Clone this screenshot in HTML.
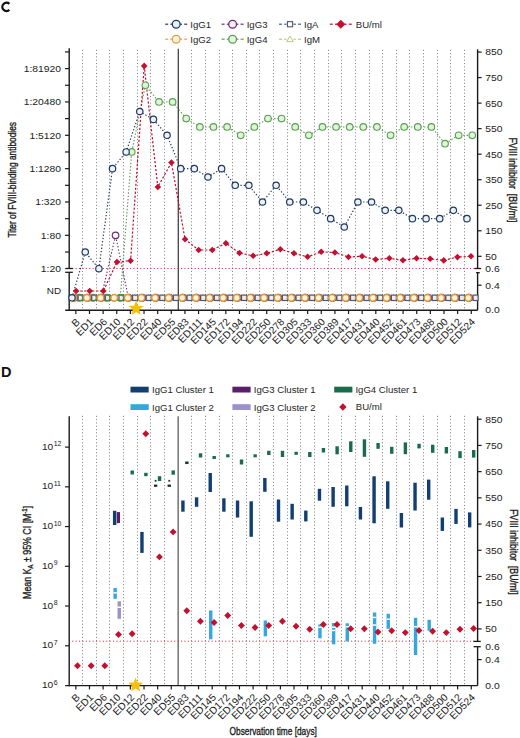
<!DOCTYPE html>
<html><head><meta charset="utf-8"><style>
html,body{margin:0;padding:0;background:#fff;}
svg{display:block;font-family:"Liberation Sans", sans-serif;}
</style></head><body>
<svg width="520" height="738" viewBox="0 0 520 738">
<rect width="520" height="738" fill="#fff"/>
<path d="M9.35 3.85 A4.15 4.15 0 1 0 9.35 9.95" fill="none" stroke="#111" stroke-width="2.3"/>
<line x1="165.20" y1="24.20" x2="168.20" y2="24.20" stroke="#22395a" stroke-width="1.2" />
<line x1="170.40" y1="24.20" x2="172.70" y2="24.20" stroke="#22395a" stroke-width="1.2" />
<line x1="179.70" y1="24.20" x2="182.00" y2="24.20" stroke="#22395a" stroke-width="1.2" />
<line x1="184.20" y1="24.20" x2="187.20" y2="24.20" stroke="#22395a" stroke-width="1.2" />
<circle cx="176.20" cy="24.20" r="3.9" stroke="#22395a" fill="#e4f1fb" stroke-width="1.3"/>
<text x="190.30" y="27.60" font-size="9.6" text-anchor="start" fill="#262626" font-weight="normal" >IgG1</text>
<line x1="221.60" y1="24.20" x2="224.60" y2="24.20" stroke="#6a2d6e" stroke-width="1.2" />
<line x1="226.80" y1="24.20" x2="229.10" y2="24.20" stroke="#6a2d6e" stroke-width="1.2" />
<line x1="236.10" y1="24.20" x2="238.40" y2="24.20" stroke="#6a2d6e" stroke-width="1.2" />
<line x1="240.60" y1="24.20" x2="243.60" y2="24.20" stroke="#6a2d6e" stroke-width="1.2" />
<circle cx="232.60" cy="24.20" r="3.9" stroke="#6a2d6e" fill="#f6eef6" stroke-width="1.3"/>
<text x="246.70" y="27.60" font-size="9.6" text-anchor="start" fill="#262626" font-weight="normal" >IgG3</text>
<line x1="279.00" y1="24.20" x2="282.00" y2="24.20" stroke="#4b5a72" stroke-width="1.2" />
<line x1="284.20" y1="24.20" x2="286.50" y2="24.20" stroke="#4b5a72" stroke-width="1.2" />
<line x1="293.50" y1="24.20" x2="295.80" y2="24.20" stroke="#4b5a72" stroke-width="1.2" />
<line x1="298.00" y1="24.20" x2="301.00" y2="24.20" stroke="#4b5a72" stroke-width="1.2" />
<rect x="287.40" y="21.60" width="5.2" height="5.2" fill="#fff" stroke="#4b5a72" stroke-width="1.1"/>
<text x="304.00" y="27.60" font-size="9.6" text-anchor="start" fill="#262626" font-weight="normal" >IgA</text>
<line x1="329.80" y1="24.20" x2="332.80" y2="24.20" stroke="#c2102f" stroke-width="1.2" />
<line x1="335.00" y1="24.20" x2="337.30" y2="24.20" stroke="#c2102f" stroke-width="1.2" />
<line x1="344.30" y1="24.20" x2="346.60" y2="24.20" stroke="#c2102f" stroke-width="1.2" />
<line x1="348.80" y1="24.20" x2="351.80" y2="24.20" stroke="#c2102f" stroke-width="1.2" />
<path d="M340.80 19.70L345.30 24.20L340.80 28.70L336.30 24.20Z" fill="#c2102f"/>
<text x="355.80" y="27.60" font-size="9.6" text-anchor="start" fill="#262626" font-weight="normal" >BU/ml</text>
<line x1="165.20" y1="39.20" x2="168.20" y2="39.20" stroke="#e0a040" stroke-width="1.2" />
<line x1="170.40" y1="39.20" x2="172.70" y2="39.20" stroke="#e0a040" stroke-width="1.2" />
<line x1="179.70" y1="39.20" x2="182.00" y2="39.20" stroke="#e0a040" stroke-width="1.2" />
<line x1="184.20" y1="39.20" x2="187.20" y2="39.20" stroke="#e0a040" stroke-width="1.2" />
<circle cx="176.20" cy="39.20" r="3.9" stroke="#e0a040" fill="#fdf0dc" stroke-width="1.3"/>
<text x="190.30" y="42.60" font-size="9.6" text-anchor="start" fill="#262626" font-weight="normal" >IgG2</text>
<line x1="221.60" y1="39.20" x2="224.60" y2="39.20" stroke="#5a9e52" stroke-width="1.2" />
<line x1="226.80" y1="39.20" x2="229.10" y2="39.20" stroke="#5a9e52" stroke-width="1.2" />
<line x1="236.10" y1="39.20" x2="238.40" y2="39.20" stroke="#5a9e52" stroke-width="1.2" />
<line x1="240.60" y1="39.20" x2="243.60" y2="39.20" stroke="#5a9e52" stroke-width="1.2" />
<circle cx="232.60" cy="39.20" r="3.9" stroke="#5a9e52" fill="#e6f5e1" stroke-width="1.3"/>
<text x="246.70" y="42.60" font-size="9.6" text-anchor="start" fill="#262626" font-weight="normal" >IgG4</text>
<line x1="279.00" y1="39.20" x2="282.00" y2="39.20" stroke="#b9c97f" stroke-width="1.2" />
<line x1="284.20" y1="39.20" x2="286.50" y2="39.20" stroke="#b9c97f" stroke-width="1.2" />
<line x1="293.50" y1="39.20" x2="295.80" y2="39.20" stroke="#b9c97f" stroke-width="1.2" />
<line x1="298.00" y1="39.20" x2="301.00" y2="39.20" stroke="#b9c97f" stroke-width="1.2" />
<path d="M290.00 36.00L293.20 41.60L286.80 41.60Z" fill="#fff" stroke="#b9c97f" stroke-width="1.0"/>
<text x="304.00" y="42.60" font-size="9.6" text-anchor="start" fill="#262626" font-weight="normal" >IgM</text>
<line x1="82.50" y1="49.80" x2="82.50" y2="310.20" stroke="#878787" stroke-width="1.0" stroke-dasharray="1.1 2.2"/>
<line x1="96.50" y1="49.80" x2="96.50" y2="310.20" stroke="#878787" stroke-width="1.0" stroke-dasharray="1.1 2.2"/>
<line x1="109.50" y1="49.80" x2="109.50" y2="310.20" stroke="#878787" stroke-width="1.0" stroke-dasharray="1.1 2.2"/>
<line x1="123.50" y1="49.80" x2="123.50" y2="310.20" stroke="#878787" stroke-width="1.0" stroke-dasharray="1.1 2.2"/>
<line x1="137.50" y1="49.80" x2="137.50" y2="310.20" stroke="#878787" stroke-width="1.0" stroke-dasharray="1.1 2.2"/>
<line x1="150.50" y1="49.80" x2="150.50" y2="310.20" stroke="#878787" stroke-width="1.0" stroke-dasharray="1.1 2.2"/>
<line x1="164.50" y1="49.80" x2="164.50" y2="310.20" stroke="#878787" stroke-width="1.0" stroke-dasharray="1.1 2.2"/>
<line x1="191.50" y1="49.80" x2="191.50" y2="310.20" stroke="#878787" stroke-width="1.0" stroke-dasharray="1.1 2.2"/>
<line x1="205.50" y1="49.80" x2="205.50" y2="310.20" stroke="#878787" stroke-width="1.0" stroke-dasharray="1.1 2.2"/>
<line x1="219.50" y1="49.80" x2="219.50" y2="310.20" stroke="#878787" stroke-width="1.0" stroke-dasharray="1.1 2.2"/>
<line x1="232.50" y1="49.80" x2="232.50" y2="310.20" stroke="#878787" stroke-width="1.0" stroke-dasharray="1.1 2.2"/>
<line x1="246.50" y1="49.80" x2="246.50" y2="310.20" stroke="#878787" stroke-width="1.0" stroke-dasharray="1.1 2.2"/>
<line x1="259.50" y1="49.80" x2="259.50" y2="310.20" stroke="#878787" stroke-width="1.0" stroke-dasharray="1.1 2.2"/>
<line x1="273.50" y1="49.80" x2="273.50" y2="310.20" stroke="#878787" stroke-width="1.0" stroke-dasharray="1.1 2.2"/>
<line x1="287.50" y1="49.80" x2="287.50" y2="310.20" stroke="#878787" stroke-width="1.0" stroke-dasharray="1.1 2.2"/>
<line x1="300.50" y1="49.80" x2="300.50" y2="310.20" stroke="#878787" stroke-width="1.0" stroke-dasharray="1.1 2.2"/>
<line x1="314.50" y1="49.80" x2="314.50" y2="310.20" stroke="#878787" stroke-width="1.0" stroke-dasharray="1.1 2.2"/>
<line x1="328.50" y1="49.80" x2="328.50" y2="310.20" stroke="#878787" stroke-width="1.0" stroke-dasharray="1.1 2.2"/>
<line x1="341.50" y1="49.80" x2="341.50" y2="310.20" stroke="#878787" stroke-width="1.0" stroke-dasharray="1.1 2.2"/>
<line x1="355.50" y1="49.80" x2="355.50" y2="310.20" stroke="#878787" stroke-width="1.0" stroke-dasharray="1.1 2.2"/>
<line x1="369.50" y1="49.80" x2="369.50" y2="310.20" stroke="#878787" stroke-width="1.0" stroke-dasharray="1.1 2.2"/>
<line x1="382.50" y1="49.80" x2="382.50" y2="310.20" stroke="#878787" stroke-width="1.0" stroke-dasharray="1.1 2.2"/>
<line x1="396.50" y1="49.80" x2="396.50" y2="310.20" stroke="#878787" stroke-width="1.0" stroke-dasharray="1.1 2.2"/>
<line x1="409.50" y1="49.80" x2="409.50" y2="310.20" stroke="#878787" stroke-width="1.0" stroke-dasharray="1.1 2.2"/>
<line x1="423.50" y1="49.80" x2="423.50" y2="310.20" stroke="#878787" stroke-width="1.0" stroke-dasharray="1.1 2.2"/>
<line x1="437.50" y1="49.80" x2="437.50" y2="310.20" stroke="#878787" stroke-width="1.0" stroke-dasharray="1.1 2.2"/>
<line x1="450.50" y1="49.80" x2="450.50" y2="310.20" stroke="#878787" stroke-width="1.0" stroke-dasharray="1.1 2.2"/>
<line x1="464.50" y1="49.80" x2="464.50" y2="310.20" stroke="#878787" stroke-width="1.0" stroke-dasharray="1.1 2.2"/>
<line x1="178.26" y1="48.80" x2="178.26" y2="310.20" stroke="#222" stroke-width="1.1" />
<line x1="72.20" y1="268.50" x2="474.60" y2="268.50" stroke="#c8304e" stroke-width="1.0" stroke-dasharray="1.1 2.3"/>
<line x1="69.20" y1="48.30" x2="69.20" y2="268.50" stroke="#1a1a1a" stroke-width="1.4" />
<line x1="69.20" y1="272.30" x2="69.20" y2="310.80" stroke="#1a1a1a" stroke-width="1.4" />
<line x1="65.20" y1="268.50" x2="72.90" y2="268.50" stroke="#1a1a1a" stroke-width="1.3" />
<line x1="65.20" y1="272.30" x2="72.90" y2="272.30" stroke="#1a1a1a" stroke-width="1.3" />
<line x1="65.20" y1="310.20" x2="477.60" y2="310.20" stroke="#1a1a1a" stroke-width="1.4" />
<line x1="477.60" y1="49.30" x2="477.60" y2="268.50" stroke="#1a1a1a" stroke-width="1.4" />
<line x1="477.60" y1="272.70" x2="477.60" y2="310.20" stroke="#1a1a1a" stroke-width="1.4" />
<line x1="474.40" y1="268.50" x2="481.20" y2="268.50" stroke="#1a1a1a" stroke-width="1.3" />
<line x1="476.00" y1="272.70" x2="479.80" y2="272.70" stroke="#1a1a1a" stroke-width="1.3" />
<line x1="65.00" y1="252.02" x2="69.20" y2="252.02" stroke="#1a1a1a" stroke-width="1.2" />
<line x1="65.00" y1="235.35" x2="69.20" y2="235.35" stroke="#1a1a1a" stroke-width="1.2" />
<line x1="65.00" y1="218.67" x2="69.20" y2="218.67" stroke="#1a1a1a" stroke-width="1.2" />
<line x1="65.00" y1="202.00" x2="69.20" y2="202.00" stroke="#1a1a1a" stroke-width="1.2" />
<line x1="65.00" y1="185.32" x2="69.20" y2="185.32" stroke="#1a1a1a" stroke-width="1.2" />
<line x1="65.00" y1="168.65" x2="69.20" y2="168.65" stroke="#1a1a1a" stroke-width="1.2" />
<line x1="65.00" y1="151.97" x2="69.20" y2="151.97" stroke="#1a1a1a" stroke-width="1.2" />
<line x1="65.00" y1="135.30" x2="69.20" y2="135.30" stroke="#1a1a1a" stroke-width="1.2" />
<line x1="65.00" y1="118.62" x2="69.20" y2="118.62" stroke="#1a1a1a" stroke-width="1.2" />
<line x1="65.00" y1="101.95" x2="69.20" y2="101.95" stroke="#1a1a1a" stroke-width="1.2" />
<line x1="65.00" y1="85.27" x2="69.20" y2="85.27" stroke="#1a1a1a" stroke-width="1.2" />
<line x1="65.00" y1="68.60" x2="69.20" y2="68.60" stroke="#1a1a1a" stroke-width="1.2" />
<line x1="65.00" y1="51.92" x2="69.20" y2="51.92" stroke="#1a1a1a" stroke-width="1.2" />
<text transform="translate(61.00,72.00) scale(1.1,1)" font-size="9.4" text-anchor="end" fill="#222">1:81920</text>
<text transform="translate(61.00,105.35) scale(1.1,1)" font-size="9.4" text-anchor="end" fill="#222">1:20480</text>
<text transform="translate(61.00,138.70) scale(1.1,1)" font-size="9.4" text-anchor="end" fill="#222">1:5120</text>
<text transform="translate(61.00,172.05) scale(1.1,1)" font-size="9.4" text-anchor="end" fill="#222">1:1280</text>
<text transform="translate(61.00,205.40) scale(1.1,1)" font-size="9.4" text-anchor="end" fill="#222">1:320</text>
<text transform="translate(61.00,238.75) scale(1.1,1)" font-size="9.4" text-anchor="end" fill="#222">1:80</text>
<text transform="translate(61.00,272.10) scale(1.1,1)" font-size="9.4" text-anchor="end" fill="#222">1:20</text>
<text transform="translate(61.00,294.20) scale(1.05,1)" font-size="9.4" text-anchor="end" fill="#222">ND</text>
<line x1="477.60" y1="52.06" x2="481.60" y2="52.06" stroke="#1a1a1a" stroke-width="1.2" />
<text transform="translate(485.30,55.46) scale(1.1,1)" font-size="9.4" text-anchor="start" fill="#222">850</text>
<line x1="477.60" y1="77.59" x2="481.60" y2="77.59" stroke="#1a1a1a" stroke-width="1.2" />
<text transform="translate(485.30,80.99) scale(1.1,1)" font-size="9.4" text-anchor="start" fill="#222">750</text>
<line x1="477.60" y1="103.12" x2="481.60" y2="103.12" stroke="#1a1a1a" stroke-width="1.2" />
<text transform="translate(485.30,106.52) scale(1.1,1)" font-size="9.4" text-anchor="start" fill="#222">650</text>
<line x1="477.60" y1="128.65" x2="481.60" y2="128.65" stroke="#1a1a1a" stroke-width="1.2" />
<text transform="translate(485.30,132.05) scale(1.1,1)" font-size="9.4" text-anchor="start" fill="#222">550</text>
<line x1="477.60" y1="154.18" x2="481.60" y2="154.18" stroke="#1a1a1a" stroke-width="1.2" />
<text transform="translate(485.30,157.58) scale(1.1,1)" font-size="9.4" text-anchor="start" fill="#222">450</text>
<line x1="477.60" y1="179.71" x2="481.60" y2="179.71" stroke="#1a1a1a" stroke-width="1.2" />
<text transform="translate(485.30,183.11) scale(1.1,1)" font-size="9.4" text-anchor="start" fill="#222">350</text>
<line x1="477.60" y1="205.24" x2="481.60" y2="205.24" stroke="#1a1a1a" stroke-width="1.2" />
<text transform="translate(485.30,208.64) scale(1.1,1)" font-size="9.4" text-anchor="start" fill="#222">250</text>
<line x1="477.60" y1="230.77" x2="481.60" y2="230.77" stroke="#1a1a1a" stroke-width="1.2" />
<text transform="translate(485.30,234.17) scale(1.1,1)" font-size="9.4" text-anchor="start" fill="#222">150</text>
<line x1="477.60" y1="256.30" x2="481.60" y2="256.30" stroke="#1a1a1a" stroke-width="1.2" />
<text transform="translate(485.30,259.70) scale(1.1,1)" font-size="9.4" text-anchor="start" fill="#222">50</text>
<text transform="translate(485.30,271.90) scale(1.1,1)" font-size="9.4" text-anchor="start" fill="#222">0.6</text>
<line x1="477.60" y1="285.20" x2="481.60" y2="285.20" stroke="#1a1a1a" stroke-width="1.2" />
<text transform="translate(485.30,288.60) scale(1.1,1)" font-size="9.4" text-anchor="start" fill="#222">0.4</text>
<text transform="translate(485.30,313.40) scale(1.1,1)" font-size="9.4" text-anchor="start" fill="#222">0.0</text>
<line x1="75.85" y1="310.20" x2="75.85" y2="314.00" stroke="#1a1a1a" stroke-width="1.2" />
<line x1="89.48" y1="310.20" x2="89.48" y2="314.00" stroke="#1a1a1a" stroke-width="1.2" />
<line x1="103.12" y1="310.20" x2="103.12" y2="314.00" stroke="#1a1a1a" stroke-width="1.2" />
<line x1="116.75" y1="310.20" x2="116.75" y2="314.00" stroke="#1a1a1a" stroke-width="1.2" />
<line x1="130.39" y1="310.20" x2="130.39" y2="314.00" stroke="#1a1a1a" stroke-width="1.2" />
<line x1="144.02" y1="310.20" x2="144.02" y2="314.00" stroke="#1a1a1a" stroke-width="1.2" />
<line x1="157.66" y1="310.20" x2="157.66" y2="314.00" stroke="#1a1a1a" stroke-width="1.2" />
<line x1="171.29" y1="310.20" x2="171.29" y2="314.00" stroke="#1a1a1a" stroke-width="1.2" />
<line x1="184.93" y1="310.20" x2="184.93" y2="314.00" stroke="#1a1a1a" stroke-width="1.2" />
<line x1="198.56" y1="310.20" x2="198.56" y2="314.00" stroke="#1a1a1a" stroke-width="1.2" />
<line x1="212.20" y1="310.20" x2="212.20" y2="314.00" stroke="#1a1a1a" stroke-width="1.2" />
<line x1="225.83" y1="310.20" x2="225.83" y2="314.00" stroke="#1a1a1a" stroke-width="1.2" />
<line x1="239.47" y1="310.20" x2="239.47" y2="314.00" stroke="#1a1a1a" stroke-width="1.2" />
<line x1="253.10" y1="310.20" x2="253.10" y2="314.00" stroke="#1a1a1a" stroke-width="1.2" />
<line x1="266.74" y1="310.20" x2="266.74" y2="314.00" stroke="#1a1a1a" stroke-width="1.2" />
<line x1="280.38" y1="310.20" x2="280.38" y2="314.00" stroke="#1a1a1a" stroke-width="1.2" />
<line x1="294.01" y1="310.20" x2="294.01" y2="314.00" stroke="#1a1a1a" stroke-width="1.2" />
<line x1="307.64" y1="310.20" x2="307.64" y2="314.00" stroke="#1a1a1a" stroke-width="1.2" />
<line x1="321.28" y1="310.20" x2="321.28" y2="314.00" stroke="#1a1a1a" stroke-width="1.2" />
<line x1="334.91" y1="310.20" x2="334.91" y2="314.00" stroke="#1a1a1a" stroke-width="1.2" />
<line x1="348.55" y1="310.20" x2="348.55" y2="314.00" stroke="#1a1a1a" stroke-width="1.2" />
<line x1="362.18" y1="310.20" x2="362.18" y2="314.00" stroke="#1a1a1a" stroke-width="1.2" />
<line x1="375.82" y1="310.20" x2="375.82" y2="314.00" stroke="#1a1a1a" stroke-width="1.2" />
<line x1="389.46" y1="310.20" x2="389.46" y2="314.00" stroke="#1a1a1a" stroke-width="1.2" />
<line x1="403.09" y1="310.20" x2="403.09" y2="314.00" stroke="#1a1a1a" stroke-width="1.2" />
<line x1="416.73" y1="310.20" x2="416.73" y2="314.00" stroke="#1a1a1a" stroke-width="1.2" />
<line x1="430.36" y1="310.20" x2="430.36" y2="314.00" stroke="#1a1a1a" stroke-width="1.2" />
<line x1="444.00" y1="310.20" x2="444.00" y2="314.00" stroke="#1a1a1a" stroke-width="1.2" />
<line x1="457.63" y1="310.20" x2="457.63" y2="314.00" stroke="#1a1a1a" stroke-width="1.2" />
<line x1="471.26" y1="310.20" x2="471.26" y2="314.00" stroke="#1a1a1a" stroke-width="1.2" />
<text transform="translate(15.6,179.8) rotate(-90)" font-size="10.6" text-anchor="middle" textLength="115.6" lengthAdjust="spacingAndGlyphs" fill="#1a1a1a" stroke="#1a1a1a" stroke-width="0.35">Titer of FVIII-binding antibodies</text>
<text transform="translate(508.5,179.9) rotate(90)" font-size="10.6" text-anchor="middle" textLength="85" lengthAdjust="spacingAndGlyphs" fill="#1a1a1a" stroke="#1a1a1a" stroke-width="0.35">FVIII inhibitor&#160; [BU/ml]</text>
<polyline points="80.60,297.80 94.22,297.80 107.84,297.80 121.46,297.80 135.08,297.80 148.70,297.80 162.32,297.80 175.94,297.80 189.56,297.80 203.18,297.80 216.80,297.80 230.42,297.80 244.04,297.80 257.66,297.80 271.28,297.80 284.90,297.80 298.52,297.80 312.14,297.80 325.76,297.80 339.38,297.80 353.00,297.80 366.62,297.80 380.24,297.80 393.86,297.80 407.48,297.80 421.10,297.80 434.72,297.80 448.34,297.80 461.96,297.80 475.58,297.80" fill="none" stroke="#b9c97f" stroke-width="1.0" stroke-dasharray="2 1.5" />
<polyline points="80.60,297.80 94.22,297.80 107.84,297.80 121.46,297.80 135.08,297.80 148.70,297.80 162.32,297.80 175.94,297.80 189.56,297.80 203.18,297.80 216.80,297.80 230.42,297.80 244.04,297.80 257.66,297.80 271.28,297.80 284.90,297.80 298.52,297.80 312.14,297.80 325.76,297.80 339.38,297.80 353.00,297.80 366.62,297.80 380.24,297.80 393.86,297.80 407.48,297.80 421.10,297.80 434.72,297.80 448.34,297.80 461.96,297.80 475.58,297.80" fill="none" stroke="#4b5a72" stroke-width="1.0" stroke-dasharray="2 1.5" />
<polyline points="73.90,297.80 87.52,297.80 101.14,297.80 115.55,235.35 128.38,297.80 142.00,297.80 155.62,297.80 169.24,297.80 182.86,297.80 196.48,297.80 210.10,297.80 223.72,297.80 237.34,297.80 250.96,297.80 264.58,297.80 278.20,297.80 291.82,297.80 305.44,297.80 319.06,297.80 332.68,297.80 346.30,297.80 359.92,297.80 373.54,297.80 387.16,297.80 400.78,297.80 414.40,297.80 428.02,297.80 441.64,297.80 455.26,297.80 468.88,297.80" fill="none" stroke="#6a2d6e" stroke-width="1.15" stroke-dasharray="1.4 1.9" />
<polyline points="79.40,297.80 93.02,297.80 106.64,297.80 120.26,297.80 131.74,151.97 145.37,85.27 158.99,101.95 172.61,101.95 186.23,118.62 199.85,126.96 213.47,126.96 227.09,126.96 240.71,135.30 254.33,126.96 267.95,118.62 281.57,118.62 295.20,126.96 308.82,135.30 322.44,126.96 336.06,126.96 349.68,126.96 363.30,126.96 376.92,126.96 390.54,135.30 404.16,126.96 417.79,126.96 431.41,126.96 445.03,143.64 458.65,135.30 472.27,135.30" fill="none" stroke="#5a9e52" stroke-width="1.15" stroke-dasharray="1.4 1.9" />
<polyline points="72.00,297.80 85.25,252.02 98.89,268.70 112.52,168.65 126.15,151.97 139.78,111.50 153.42,119.40 167.05,135.30 180.68,168.65 194.32,168.65 207.95,176.99 221.58,168.65 235.22,185.32 248.85,185.32 262.48,202.00 276.12,185.32 289.75,202.00 303.38,202.00 317.01,210.34 330.65,218.67 344.28,227.01 357.91,202.00 371.55,202.00 385.18,210.34 398.81,210.34 412.44,218.67 426.08,218.67 439.71,218.67 453.34,210.34 466.98,218.67" fill="none" stroke="#22395a" stroke-width="1.2" stroke-dasharray="1.3 2.0" />
<polyline points="73.30,297.80 86.92,297.80 100.54,297.80 114.16,297.80 127.78,297.80 141.40,297.80 155.02,297.80 168.64,297.80 182.26,297.80 195.88,297.80 209.50,297.80 223.12,297.80 236.74,297.80 250.36,297.80 263.98,297.80 277.60,297.80 291.22,297.80 304.84,297.80 318.46,297.80 332.08,297.80 345.70,297.80 359.32,297.80 372.94,297.80 386.56,297.80 400.18,297.80 413.80,297.80 427.42,297.80 441.04,297.80 454.66,297.80 468.28,297.80" fill="none" stroke="#e0a040" stroke-width="1.0" stroke-dasharray="2 1.5" />
<polyline points="76.12,291.00 89.74,291.00 103.35,291.00 116.97,262.00 130.59,260.75 144.21,65.90 157.82,187.00 171.44,162.50 185.06,239.30 198.67,250.00 212.29,250.00 225.91,243.30 239.52,253.00 253.14,255.80 266.76,253.30 280.38,249.30 293.99,253.30 307.61,256.80 321.23,251.80 334.84,252.50 348.46,257.00 362.08,256.30 375.69,259.50 389.31,258.30 402.93,260.30 416.55,258.30 430.16,258.80 443.78,260.40 457.40,257.10 471.01,256.30" fill="none" stroke="#c2102f" stroke-width="1.2" stroke-dasharray="2.2 1.8" />
<path d="M80.60 294.60L83.80 300.20L77.40 300.20Z" fill="#fafaf0" stroke="#b9c97f" stroke-width="1.0"/>
<path d="M94.22 294.60L97.42 300.20L91.02 300.20Z" fill="#fafaf0" stroke="#b9c97f" stroke-width="1.0"/>
<path d="M107.84 294.60L111.04 300.20L104.64 300.20Z" fill="#fafaf0" stroke="#b9c97f" stroke-width="1.0"/>
<path d="M121.46 294.60L124.66 300.20L118.26 300.20Z" fill="#fafaf0" stroke="#b9c97f" stroke-width="1.0"/>
<path d="M135.08 294.60L138.28 300.20L131.88 300.20Z" fill="#fafaf0" stroke="#b9c97f" stroke-width="1.0"/>
<path d="M148.70 294.60L151.90 300.20L145.50 300.20Z" fill="#fafaf0" stroke="#b9c97f" stroke-width="1.0"/>
<path d="M162.32 294.60L165.52 300.20L159.12 300.20Z" fill="#fafaf0" stroke="#b9c97f" stroke-width="1.0"/>
<path d="M175.94 294.60L179.14 300.20L172.74 300.20Z" fill="#fafaf0" stroke="#b9c97f" stroke-width="1.0"/>
<path d="M189.56 294.60L192.76 300.20L186.36 300.20Z" fill="#fafaf0" stroke="#b9c97f" stroke-width="1.0"/>
<path d="M203.18 294.60L206.38 300.20L199.98 300.20Z" fill="#fafaf0" stroke="#b9c97f" stroke-width="1.0"/>
<path d="M216.80 294.60L220.00 300.20L213.60 300.20Z" fill="#fafaf0" stroke="#b9c97f" stroke-width="1.0"/>
<path d="M230.42 294.60L233.62 300.20L227.22 300.20Z" fill="#fafaf0" stroke="#b9c97f" stroke-width="1.0"/>
<path d="M244.04 294.60L247.24 300.20L240.84 300.20Z" fill="#fafaf0" stroke="#b9c97f" stroke-width="1.0"/>
<path d="M257.66 294.60L260.86 300.20L254.46 300.20Z" fill="#fafaf0" stroke="#b9c97f" stroke-width="1.0"/>
<path d="M271.28 294.60L274.48 300.20L268.08 300.20Z" fill="#fafaf0" stroke="#b9c97f" stroke-width="1.0"/>
<path d="M284.90 294.60L288.10 300.20L281.70 300.20Z" fill="#fafaf0" stroke="#b9c97f" stroke-width="1.0"/>
<path d="M298.52 294.60L301.72 300.20L295.32 300.20Z" fill="#fafaf0" stroke="#b9c97f" stroke-width="1.0"/>
<path d="M312.14 294.60L315.34 300.20L308.94 300.20Z" fill="#fafaf0" stroke="#b9c97f" stroke-width="1.0"/>
<path d="M325.76 294.60L328.96 300.20L322.56 300.20Z" fill="#fafaf0" stroke="#b9c97f" stroke-width="1.0"/>
<path d="M339.38 294.60L342.58 300.20L336.18 300.20Z" fill="#fafaf0" stroke="#b9c97f" stroke-width="1.0"/>
<path d="M353.00 294.60L356.20 300.20L349.80 300.20Z" fill="#fafaf0" stroke="#b9c97f" stroke-width="1.0"/>
<path d="M366.62 294.60L369.82 300.20L363.42 300.20Z" fill="#fafaf0" stroke="#b9c97f" stroke-width="1.0"/>
<path d="M380.24 294.60L383.44 300.20L377.04 300.20Z" fill="#fafaf0" stroke="#b9c97f" stroke-width="1.0"/>
<path d="M393.86 294.60L397.06 300.20L390.66 300.20Z" fill="#fafaf0" stroke="#b9c97f" stroke-width="1.0"/>
<path d="M407.48 294.60L410.68 300.20L404.28 300.20Z" fill="#fafaf0" stroke="#b9c97f" stroke-width="1.0"/>
<path d="M421.10 294.60L424.30 300.20L417.90 300.20Z" fill="#fafaf0" stroke="#b9c97f" stroke-width="1.0"/>
<path d="M434.72 294.60L437.92 300.20L431.52 300.20Z" fill="#fafaf0" stroke="#b9c97f" stroke-width="1.0"/>
<path d="M448.34 294.60L451.54 300.20L445.14 300.20Z" fill="#fafaf0" stroke="#b9c97f" stroke-width="1.0"/>
<path d="M461.96 294.60L465.16 300.20L458.76 300.20Z" fill="#fafaf0" stroke="#b9c97f" stroke-width="1.0"/>
<path d="M475.58 294.60L478.78 300.20L472.38 300.20Z" fill="#fafaf0" stroke="#b9c97f" stroke-width="1.0"/>
<rect x="78.10" y="295.10" width="5.0" height="5.4" fill="#f0ecf2" stroke="#4b5a72" stroke-width="1.2"/>
<rect x="91.72" y="295.10" width="5.0" height="5.4" fill="#f0ecf2" stroke="#4b5a72" stroke-width="1.2"/>
<rect x="105.34" y="295.10" width="5.0" height="5.4" fill="#f0ecf2" stroke="#4b5a72" stroke-width="1.2"/>
<rect x="118.96" y="295.10" width="5.0" height="5.4" fill="#f0ecf2" stroke="#4b5a72" stroke-width="1.2"/>
<rect x="132.58" y="295.10" width="5.0" height="5.4" fill="#f0ecf2" stroke="#4b5a72" stroke-width="1.2"/>
<rect x="146.20" y="295.10" width="5.0" height="5.4" fill="#f0ecf2" stroke="#4b5a72" stroke-width="1.2"/>
<rect x="159.82" y="295.10" width="5.0" height="5.4" fill="#f0ecf2" stroke="#4b5a72" stroke-width="1.2"/>
<rect x="173.44" y="295.10" width="5.0" height="5.4" fill="#f0ecf2" stroke="#4b5a72" stroke-width="1.2"/>
<rect x="187.06" y="295.10" width="5.0" height="5.4" fill="#f0ecf2" stroke="#4b5a72" stroke-width="1.2"/>
<rect x="200.68" y="295.10" width="5.0" height="5.4" fill="#f0ecf2" stroke="#4b5a72" stroke-width="1.2"/>
<rect x="214.30" y="295.10" width="5.0" height="5.4" fill="#f0ecf2" stroke="#4b5a72" stroke-width="1.2"/>
<rect x="227.92" y="295.10" width="5.0" height="5.4" fill="#f0ecf2" stroke="#4b5a72" stroke-width="1.2"/>
<rect x="241.54" y="295.10" width="5.0" height="5.4" fill="#f0ecf2" stroke="#4b5a72" stroke-width="1.2"/>
<rect x="255.16" y="295.10" width="5.0" height="5.4" fill="#f0ecf2" stroke="#4b5a72" stroke-width="1.2"/>
<rect x="268.78" y="295.10" width="5.0" height="5.4" fill="#f0ecf2" stroke="#4b5a72" stroke-width="1.2"/>
<rect x="282.40" y="295.10" width="5.0" height="5.4" fill="#f0ecf2" stroke="#4b5a72" stroke-width="1.2"/>
<rect x="296.02" y="295.10" width="5.0" height="5.4" fill="#f0ecf2" stroke="#4b5a72" stroke-width="1.2"/>
<rect x="309.64" y="295.10" width="5.0" height="5.4" fill="#f0ecf2" stroke="#4b5a72" stroke-width="1.2"/>
<rect x="323.26" y="295.10" width="5.0" height="5.4" fill="#f0ecf2" stroke="#4b5a72" stroke-width="1.2"/>
<rect x="336.88" y="295.10" width="5.0" height="5.4" fill="#f0ecf2" stroke="#4b5a72" stroke-width="1.2"/>
<rect x="350.50" y="295.10" width="5.0" height="5.4" fill="#f0ecf2" stroke="#4b5a72" stroke-width="1.2"/>
<rect x="364.12" y="295.10" width="5.0" height="5.4" fill="#f0ecf2" stroke="#4b5a72" stroke-width="1.2"/>
<rect x="377.74" y="295.10" width="5.0" height="5.4" fill="#f0ecf2" stroke="#4b5a72" stroke-width="1.2"/>
<rect x="391.36" y="295.10" width="5.0" height="5.4" fill="#f0ecf2" stroke="#4b5a72" stroke-width="1.2"/>
<rect x="404.98" y="295.10" width="5.0" height="5.4" fill="#f0ecf2" stroke="#4b5a72" stroke-width="1.2"/>
<rect x="418.60" y="295.10" width="5.0" height="5.4" fill="#f0ecf2" stroke="#4b5a72" stroke-width="1.2"/>
<rect x="432.22" y="295.10" width="5.0" height="5.4" fill="#f0ecf2" stroke="#4b5a72" stroke-width="1.2"/>
<rect x="445.84" y="295.10" width="5.0" height="5.4" fill="#f0ecf2" stroke="#4b5a72" stroke-width="1.2"/>
<rect x="459.46" y="295.10" width="5.0" height="5.4" fill="#f0ecf2" stroke="#4b5a72" stroke-width="1.2"/>
<rect x="473.08" y="295.10" width="5.0" height="5.4" fill="#f0ecf2" stroke="#4b5a72" stroke-width="1.2"/>
<circle cx="73.90" cy="297.80" r="3.45" stroke="#6a2d6e" fill="#fbf6fb" stroke-width="1.3"/>
<circle cx="87.52" cy="297.80" r="3.45" stroke="#6a2d6e" fill="#fbf6fb" stroke-width="1.3"/>
<circle cx="101.14" cy="297.80" r="3.45" stroke="#6a2d6e" fill="#fbf6fb" stroke-width="1.3"/>
<circle cx="128.38" cy="297.80" r="3.45" stroke="#6a2d6e" fill="#fbf6fb" stroke-width="1.3"/>
<circle cx="142.00" cy="297.80" r="3.45" stroke="#6a2d6e" fill="#fbf6fb" stroke-width="1.3"/>
<circle cx="155.62" cy="297.80" r="3.45" stroke="#6a2d6e" fill="#fbf6fb" stroke-width="1.3"/>
<circle cx="169.24" cy="297.80" r="3.45" stroke="#6a2d6e" fill="#fbf6fb" stroke-width="1.3"/>
<circle cx="182.86" cy="297.80" r="3.45" stroke="#6a2d6e" fill="#fbf6fb" stroke-width="1.3"/>
<circle cx="196.48" cy="297.80" r="3.45" stroke="#6a2d6e" fill="#fbf6fb" stroke-width="1.3"/>
<circle cx="210.10" cy="297.80" r="3.45" stroke="#6a2d6e" fill="#fbf6fb" stroke-width="1.3"/>
<circle cx="223.72" cy="297.80" r="3.45" stroke="#6a2d6e" fill="#fbf6fb" stroke-width="1.3"/>
<circle cx="237.34" cy="297.80" r="3.45" stroke="#6a2d6e" fill="#fbf6fb" stroke-width="1.3"/>
<circle cx="250.96" cy="297.80" r="3.45" stroke="#6a2d6e" fill="#fbf6fb" stroke-width="1.3"/>
<circle cx="264.58" cy="297.80" r="3.45" stroke="#6a2d6e" fill="#fbf6fb" stroke-width="1.3"/>
<circle cx="278.20" cy="297.80" r="3.45" stroke="#6a2d6e" fill="#fbf6fb" stroke-width="1.3"/>
<circle cx="291.82" cy="297.80" r="3.45" stroke="#6a2d6e" fill="#fbf6fb" stroke-width="1.3"/>
<circle cx="305.44" cy="297.80" r="3.45" stroke="#6a2d6e" fill="#fbf6fb" stroke-width="1.3"/>
<circle cx="319.06" cy="297.80" r="3.45" stroke="#6a2d6e" fill="#fbf6fb" stroke-width="1.3"/>
<circle cx="332.68" cy="297.80" r="3.45" stroke="#6a2d6e" fill="#fbf6fb" stroke-width="1.3"/>
<circle cx="346.30" cy="297.80" r="3.45" stroke="#6a2d6e" fill="#fbf6fb" stroke-width="1.3"/>
<circle cx="359.92" cy="297.80" r="3.45" stroke="#6a2d6e" fill="#fbf6fb" stroke-width="1.3"/>
<circle cx="373.54" cy="297.80" r="3.45" stroke="#6a2d6e" fill="#fbf6fb" stroke-width="1.3"/>
<circle cx="387.16" cy="297.80" r="3.45" stroke="#6a2d6e" fill="#fbf6fb" stroke-width="1.3"/>
<circle cx="400.78" cy="297.80" r="3.45" stroke="#6a2d6e" fill="#fbf6fb" stroke-width="1.3"/>
<circle cx="414.40" cy="297.80" r="3.45" stroke="#6a2d6e" fill="#fbf6fb" stroke-width="1.3"/>
<circle cx="428.02" cy="297.80" r="3.45" stroke="#6a2d6e" fill="#fbf6fb" stroke-width="1.3"/>
<circle cx="441.64" cy="297.80" r="3.45" stroke="#6a2d6e" fill="#fbf6fb" stroke-width="1.3"/>
<circle cx="455.26" cy="297.80" r="3.45" stroke="#6a2d6e" fill="#fbf6fb" stroke-width="1.3"/>
<circle cx="468.88" cy="297.80" r="3.45" stroke="#6a2d6e" fill="#fbf6fb" stroke-width="1.3"/>
<circle cx="79.40" cy="297.80" r="3.3" stroke="#4f8f48" fill="none" stroke-width="1.3"/>
<circle cx="93.02" cy="297.80" r="3.3" stroke="#4f8f48" fill="none" stroke-width="1.3"/>
<circle cx="106.64" cy="297.80" r="3.3" stroke="#4f8f48" fill="none" stroke-width="1.3"/>
<circle cx="120.26" cy="297.80" r="3.3" stroke="#4f8f48" fill="none" stroke-width="1.3"/>
<circle cx="115.55" cy="235.35" r="3.3" stroke="#6a2d6e" fill="#fbf6fb" stroke-width="1.15"/>
<circle cx="131.74" cy="151.97" r="3.3" stroke="#5a9e52" fill="#e0f4d9" stroke-width="1.1"/>
<circle cx="145.37" cy="85.27" r="3.3" stroke="#5a9e52" fill="#e0f4d9" stroke-width="1.1"/>
<circle cx="158.99" cy="101.95" r="3.3" stroke="#5a9e52" fill="#e0f4d9" stroke-width="1.1"/>
<circle cx="172.61" cy="101.95" r="3.3" stroke="#5a9e52" fill="#e0f4d9" stroke-width="1.1"/>
<circle cx="186.23" cy="118.62" r="3.3" stroke="#5a9e52" fill="#e0f4d9" stroke-width="1.1"/>
<circle cx="199.85" cy="126.96" r="3.3" stroke="#5a9e52" fill="#e0f4d9" stroke-width="1.1"/>
<circle cx="213.47" cy="126.96" r="3.3" stroke="#5a9e52" fill="#e0f4d9" stroke-width="1.1"/>
<circle cx="227.09" cy="126.96" r="3.3" stroke="#5a9e52" fill="#e0f4d9" stroke-width="1.1"/>
<circle cx="240.71" cy="135.30" r="3.3" stroke="#5a9e52" fill="#e0f4d9" stroke-width="1.1"/>
<circle cx="254.33" cy="126.96" r="3.3" stroke="#5a9e52" fill="#e0f4d9" stroke-width="1.1"/>
<circle cx="267.95" cy="118.62" r="3.3" stroke="#5a9e52" fill="#e0f4d9" stroke-width="1.1"/>
<circle cx="281.57" cy="118.62" r="3.3" stroke="#5a9e52" fill="#e0f4d9" stroke-width="1.1"/>
<circle cx="295.20" cy="126.96" r="3.3" stroke="#5a9e52" fill="#e0f4d9" stroke-width="1.1"/>
<circle cx="308.82" cy="135.30" r="3.3" stroke="#5a9e52" fill="#e0f4d9" stroke-width="1.1"/>
<circle cx="322.44" cy="126.96" r="3.3" stroke="#5a9e52" fill="#e0f4d9" stroke-width="1.1"/>
<circle cx="336.06" cy="126.96" r="3.3" stroke="#5a9e52" fill="#e0f4d9" stroke-width="1.1"/>
<circle cx="349.68" cy="126.96" r="3.3" stroke="#5a9e52" fill="#e0f4d9" stroke-width="1.1"/>
<circle cx="363.30" cy="126.96" r="3.3" stroke="#5a9e52" fill="#e0f4d9" stroke-width="1.1"/>
<circle cx="376.92" cy="126.96" r="3.3" stroke="#5a9e52" fill="#e0f4d9" stroke-width="1.1"/>
<circle cx="390.54" cy="135.30" r="3.3" stroke="#5a9e52" fill="#e0f4d9" stroke-width="1.1"/>
<circle cx="404.16" cy="126.96" r="3.3" stroke="#5a9e52" fill="#e0f4d9" stroke-width="1.1"/>
<circle cx="417.79" cy="126.96" r="3.3" stroke="#5a9e52" fill="#e0f4d9" stroke-width="1.1"/>
<circle cx="431.41" cy="126.96" r="3.3" stroke="#5a9e52" fill="#e0f4d9" stroke-width="1.1"/>
<circle cx="445.03" cy="143.64" r="3.3" stroke="#5a9e52" fill="#e0f4d9" stroke-width="1.1"/>
<circle cx="458.65" cy="135.30" r="3.3" stroke="#5a9e52" fill="#e0f4d9" stroke-width="1.1"/>
<circle cx="472.27" cy="135.30" r="3.3" stroke="#5a9e52" fill="#e0f4d9" stroke-width="1.1"/>
<circle cx="73.30" cy="297.80" r="3.35" stroke="#dc9838" fill="#fff4da" stroke-width="1.55"/>
<circle cx="86.92" cy="297.80" r="3.35" stroke="#dc9838" fill="#fff4da" stroke-width="1.55"/>
<circle cx="100.54" cy="297.80" r="3.35" stroke="#dc9838" fill="#fff4da" stroke-width="1.55"/>
<circle cx="114.16" cy="297.80" r="3.35" stroke="#dc9838" fill="#fff4da" stroke-width="1.55"/>
<circle cx="127.78" cy="297.80" r="3.35" stroke="#dc9838" fill="#fff4da" stroke-width="1.55"/>
<circle cx="141.40" cy="297.80" r="3.35" stroke="#dc9838" fill="#fff4da" stroke-width="1.55"/>
<circle cx="155.02" cy="297.80" r="3.35" stroke="#dc9838" fill="#fff4da" stroke-width="1.55"/>
<circle cx="168.64" cy="297.80" r="3.35" stroke="#dc9838" fill="#fff4da" stroke-width="1.55"/>
<circle cx="182.26" cy="297.80" r="3.35" stroke="#dc9838" fill="#fff4da" stroke-width="1.55"/>
<circle cx="195.88" cy="297.80" r="3.35" stroke="#dc9838" fill="#fff4da" stroke-width="1.55"/>
<circle cx="209.50" cy="297.80" r="3.35" stroke="#dc9838" fill="#fff4da" stroke-width="1.55"/>
<circle cx="223.12" cy="297.80" r="3.35" stroke="#dc9838" fill="#fff4da" stroke-width="1.55"/>
<circle cx="236.74" cy="297.80" r="3.35" stroke="#dc9838" fill="#fff4da" stroke-width="1.55"/>
<circle cx="250.36" cy="297.80" r="3.35" stroke="#dc9838" fill="#fff4da" stroke-width="1.55"/>
<circle cx="263.98" cy="297.80" r="3.35" stroke="#dc9838" fill="#fff4da" stroke-width="1.55"/>
<circle cx="277.60" cy="297.80" r="3.35" stroke="#dc9838" fill="#fff4da" stroke-width="1.55"/>
<circle cx="291.22" cy="297.80" r="3.35" stroke="#dc9838" fill="#fff4da" stroke-width="1.55"/>
<circle cx="304.84" cy="297.80" r="3.35" stroke="#dc9838" fill="#fff4da" stroke-width="1.55"/>
<circle cx="318.46" cy="297.80" r="3.35" stroke="#dc9838" fill="#fff4da" stroke-width="1.55"/>
<circle cx="332.08" cy="297.80" r="3.35" stroke="#dc9838" fill="#fff4da" stroke-width="1.55"/>
<circle cx="345.70" cy="297.80" r="3.35" stroke="#dc9838" fill="#fff4da" stroke-width="1.55"/>
<circle cx="359.32" cy="297.80" r="3.35" stroke="#dc9838" fill="#fff4da" stroke-width="1.55"/>
<circle cx="372.94" cy="297.80" r="3.35" stroke="#dc9838" fill="#fff4da" stroke-width="1.55"/>
<circle cx="386.56" cy="297.80" r="3.35" stroke="#dc9838" fill="#fff4da" stroke-width="1.55"/>
<circle cx="400.18" cy="297.80" r="3.35" stroke="#dc9838" fill="#fff4da" stroke-width="1.55"/>
<circle cx="413.80" cy="297.80" r="3.35" stroke="#dc9838" fill="#fff4da" stroke-width="1.55"/>
<circle cx="427.42" cy="297.80" r="3.35" stroke="#dc9838" fill="#fff4da" stroke-width="1.55"/>
<circle cx="441.04" cy="297.80" r="3.35" stroke="#dc9838" fill="#fff4da" stroke-width="1.55"/>
<circle cx="454.66" cy="297.80" r="3.35" stroke="#dc9838" fill="#fff4da" stroke-width="1.55"/>
<circle cx="468.28" cy="297.80" r="3.35" stroke="#dc9838" fill="#fff4da" stroke-width="1.55"/>
<circle cx="72.00" cy="297.80" r="3.2" stroke="#22395a" fill="#eaf3fb" stroke-width="1.2"/>
<circle cx="85.25" cy="252.02" r="3.2" stroke="#22395a" fill="#eaf3fb" stroke-width="1.2"/>
<circle cx="98.89" cy="268.70" r="3.2" stroke="#22395a" fill="#eaf3fb" stroke-width="1.2"/>
<circle cx="112.52" cy="168.65" r="3.2" stroke="#22395a" fill="#eaf3fb" stroke-width="1.2"/>
<circle cx="126.15" cy="151.97" r="3.2" stroke="#22395a" fill="#eaf3fb" stroke-width="1.2"/>
<circle cx="139.78" cy="111.50" r="3.2" stroke="#22395a" fill="#eaf3fb" stroke-width="1.2"/>
<circle cx="153.42" cy="119.40" r="3.2" stroke="#22395a" fill="#eaf3fb" stroke-width="1.2"/>
<circle cx="167.05" cy="135.30" r="3.2" stroke="#22395a" fill="#eaf3fb" stroke-width="1.2"/>
<circle cx="180.68" cy="168.65" r="3.2" stroke="#22395a" fill="#eaf3fb" stroke-width="1.2"/>
<circle cx="194.32" cy="168.65" r="3.2" stroke="#22395a" fill="#eaf3fb" stroke-width="1.2"/>
<circle cx="207.95" cy="176.99" r="3.2" stroke="#22395a" fill="#eaf3fb" stroke-width="1.2"/>
<circle cx="221.58" cy="168.65" r="3.2" stroke="#22395a" fill="#eaf3fb" stroke-width="1.2"/>
<circle cx="235.22" cy="185.32" r="3.2" stroke="#22395a" fill="#eaf3fb" stroke-width="1.2"/>
<circle cx="248.85" cy="185.32" r="3.2" stroke="#22395a" fill="#eaf3fb" stroke-width="1.2"/>
<circle cx="262.48" cy="202.00" r="3.2" stroke="#22395a" fill="#eaf3fb" stroke-width="1.2"/>
<circle cx="276.12" cy="185.32" r="3.2" stroke="#22395a" fill="#eaf3fb" stroke-width="1.2"/>
<circle cx="289.75" cy="202.00" r="3.2" stroke="#22395a" fill="#eaf3fb" stroke-width="1.2"/>
<circle cx="303.38" cy="202.00" r="3.2" stroke="#22395a" fill="#eaf3fb" stroke-width="1.2"/>
<circle cx="317.01" cy="210.34" r="3.2" stroke="#22395a" fill="#eaf3fb" stroke-width="1.2"/>
<circle cx="330.65" cy="218.67" r="3.2" stroke="#22395a" fill="#eaf3fb" stroke-width="1.2"/>
<circle cx="344.28" cy="227.01" r="3.2" stroke="#22395a" fill="#eaf3fb" stroke-width="1.2"/>
<circle cx="357.91" cy="202.00" r="3.2" stroke="#22395a" fill="#eaf3fb" stroke-width="1.2"/>
<circle cx="371.55" cy="202.00" r="3.2" stroke="#22395a" fill="#eaf3fb" stroke-width="1.2"/>
<circle cx="385.18" cy="210.34" r="3.2" stroke="#22395a" fill="#eaf3fb" stroke-width="1.2"/>
<circle cx="398.81" cy="210.34" r="3.2" stroke="#22395a" fill="#eaf3fb" stroke-width="1.2"/>
<circle cx="412.44" cy="218.67" r="3.2" stroke="#22395a" fill="#eaf3fb" stroke-width="1.2"/>
<circle cx="426.08" cy="218.67" r="3.2" stroke="#22395a" fill="#eaf3fb" stroke-width="1.2"/>
<circle cx="439.71" cy="218.67" r="3.2" stroke="#22395a" fill="#eaf3fb" stroke-width="1.2"/>
<circle cx="453.34" cy="210.34" r="3.2" stroke="#22395a" fill="#eaf3fb" stroke-width="1.2"/>
<circle cx="466.98" cy="218.67" r="3.2" stroke="#22395a" fill="#eaf3fb" stroke-width="1.2"/>
<path d="M76.12 287.70L79.42 291.00L76.12 294.30L72.82 291.00Z" fill="#c2102f"/>
<path d="M89.74 287.70L93.04 291.00L89.74 294.30L86.44 291.00Z" fill="#c2102f"/>
<path d="M103.35 287.70L106.65 291.00L103.35 294.30L100.05 291.00Z" fill="#c2102f"/>
<path d="M116.97 258.70L120.27 262.00L116.97 265.30L113.67 262.00Z" fill="#c2102f"/>
<path d="M130.59 257.45L133.89 260.75L130.59 264.05L127.29 260.75Z" fill="#c2102f"/>
<path d="M144.21 62.60L147.51 65.90L144.21 69.20L140.91 65.90Z" fill="#c2102f"/>
<path d="M157.82 183.70L161.12 187.00L157.82 190.30L154.52 187.00Z" fill="#c2102f"/>
<path d="M171.44 159.20L174.74 162.50L171.44 165.80L168.14 162.50Z" fill="#c2102f"/>
<path d="M185.06 236.00L188.36 239.30L185.06 242.60L181.76 239.30Z" fill="#c2102f"/>
<path d="M198.67 246.70L201.97 250.00L198.67 253.30L195.37 250.00Z" fill="#c2102f"/>
<path d="M212.29 246.70L215.59 250.00L212.29 253.30L208.99 250.00Z" fill="#c2102f"/>
<path d="M225.91 240.00L229.21 243.30L225.91 246.60L222.61 243.30Z" fill="#c2102f"/>
<path d="M239.52 249.70L242.82 253.00L239.52 256.30L236.22 253.00Z" fill="#c2102f"/>
<path d="M253.14 252.50L256.44 255.80L253.14 259.10L249.84 255.80Z" fill="#c2102f"/>
<path d="M266.76 250.00L270.06 253.30L266.76 256.60L263.46 253.30Z" fill="#c2102f"/>
<path d="M280.38 246.00L283.68 249.30L280.38 252.60L277.07 249.30Z" fill="#c2102f"/>
<path d="M293.99 250.00L297.29 253.30L293.99 256.60L290.69 253.30Z" fill="#c2102f"/>
<path d="M307.61 253.50L310.91 256.80L307.61 260.10L304.31 256.80Z" fill="#c2102f"/>
<path d="M321.23 248.50L324.53 251.80L321.23 255.10L317.93 251.80Z" fill="#c2102f"/>
<path d="M334.84 249.20L338.14 252.50L334.84 255.80L331.54 252.50Z" fill="#c2102f"/>
<path d="M348.46 253.70L351.76 257.00L348.46 260.30L345.16 257.00Z" fill="#c2102f"/>
<path d="M362.08 253.00L365.38 256.30L362.08 259.60L358.78 256.30Z" fill="#c2102f"/>
<path d="M375.69 256.20L378.99 259.50L375.69 262.80L372.39 259.50Z" fill="#c2102f"/>
<path d="M389.31 255.00L392.61 258.30L389.31 261.60L386.01 258.30Z" fill="#c2102f"/>
<path d="M402.93 257.00L406.23 260.30L402.93 263.60L399.63 260.30Z" fill="#c2102f"/>
<path d="M416.55 255.00L419.85 258.30L416.55 261.60L413.25 258.30Z" fill="#c2102f"/>
<path d="M430.16 255.50L433.46 258.80L430.16 262.10L426.86 258.80Z" fill="#c2102f"/>
<path d="M443.78 257.10L447.08 260.40L443.78 263.70L440.48 260.40Z" fill="#c2102f"/>
<path d="M457.40 253.80L460.70 257.10L457.40 260.40L454.10 257.10Z" fill="#c2102f"/>
<path d="M471.01 253.00L474.31 256.30L471.01 259.60L467.71 256.30Z" fill="#c2102f"/>
<polygon points="136.10,300.60 138.10,305.75 143.61,306.06 139.33,309.55 140.74,314.89 136.10,311.90 131.46,314.89 132.87,309.55 128.59,306.06 134.10,305.75" fill="#f7be0c"/>
<text transform="translate(80.45,322.60) rotate(-45)" font-size="10.2" text-anchor="end" fill="#1a1a1a">B</text>
<text transform="translate(94.08,322.60) rotate(-45)" font-size="10.2" text-anchor="end" fill="#1a1a1a">ED1</text>
<text transform="translate(107.72,322.60) rotate(-45)" font-size="10.2" text-anchor="end" fill="#1a1a1a">ED6</text>
<text transform="translate(121.35,322.60) rotate(-45)" font-size="10.2" text-anchor="end" fill="#1a1a1a">ED10</text>
<text transform="translate(134.99,322.60) rotate(-45)" font-size="10.2" text-anchor="end" fill="#1a1a1a">ED12</text>
<text transform="translate(148.62,322.60) rotate(-45)" font-size="10.2" text-anchor="end" fill="#1a1a1a">ED22</text>
<text transform="translate(162.26,322.60) rotate(-45)" font-size="10.2" text-anchor="end" fill="#1a1a1a">ED40</text>
<text transform="translate(175.89,322.60) rotate(-45)" font-size="10.2" text-anchor="end" fill="#1a1a1a">ED55</text>
<text transform="translate(189.53,322.60) rotate(-45)" font-size="10.2" text-anchor="end" fill="#1a1a1a">ED83</text>
<text transform="translate(203.16,322.60) rotate(-45)" font-size="10.2" text-anchor="end" fill="#1a1a1a">ED111</text>
<text transform="translate(216.80,322.60) rotate(-45)" font-size="10.2" text-anchor="end" fill="#1a1a1a">ED145</text>
<text transform="translate(230.43,322.60) rotate(-45)" font-size="10.2" text-anchor="end" fill="#1a1a1a">ED172</text>
<text transform="translate(244.07,322.60) rotate(-45)" font-size="10.2" text-anchor="end" fill="#1a1a1a">ED194</text>
<text transform="translate(257.70,322.60) rotate(-45)" font-size="10.2" text-anchor="end" fill="#1a1a1a">ED222</text>
<text transform="translate(271.34,322.60) rotate(-45)" font-size="10.2" text-anchor="end" fill="#1a1a1a">ED250</text>
<text transform="translate(284.98,322.60) rotate(-45)" font-size="10.2" text-anchor="end" fill="#1a1a1a">ED278</text>
<text transform="translate(298.61,322.60) rotate(-45)" font-size="10.2" text-anchor="end" fill="#1a1a1a">ED305</text>
<text transform="translate(312.25,322.60) rotate(-45)" font-size="10.2" text-anchor="end" fill="#1a1a1a">ED333</text>
<text transform="translate(325.88,322.60) rotate(-45)" font-size="10.2" text-anchor="end" fill="#1a1a1a">ED360</text>
<text transform="translate(339.51,322.60) rotate(-45)" font-size="10.2" text-anchor="end" fill="#1a1a1a">ED389</text>
<text transform="translate(353.15,322.60) rotate(-45)" font-size="10.2" text-anchor="end" fill="#1a1a1a">ED417</text>
<text transform="translate(366.78,322.60) rotate(-45)" font-size="10.2" text-anchor="end" fill="#1a1a1a">ED431</text>
<text transform="translate(380.42,322.60) rotate(-45)" font-size="10.2" text-anchor="end" fill="#1a1a1a">ED440</text>
<text transform="translate(394.06,322.60) rotate(-45)" font-size="10.2" text-anchor="end" fill="#1a1a1a">ED452</text>
<text transform="translate(407.69,322.60) rotate(-45)" font-size="10.2" text-anchor="end" fill="#1a1a1a">ED461</text>
<text transform="translate(421.33,322.60) rotate(-45)" font-size="10.2" text-anchor="end" fill="#1a1a1a">ED473</text>
<text transform="translate(434.96,322.60) rotate(-45)" font-size="10.2" text-anchor="end" fill="#1a1a1a">ED488</text>
<text transform="translate(448.60,322.60) rotate(-45)" font-size="10.2" text-anchor="end" fill="#1a1a1a">ED500</text>
<text transform="translate(462.23,322.60) rotate(-45)" font-size="10.2" text-anchor="end" fill="#1a1a1a">ED512</text>
<text transform="translate(475.87,322.60) rotate(-45)" font-size="10.2" text-anchor="end" fill="#1a1a1a">ED524</text>
<text x="1.00" y="377.00" font-size="14.5" text-anchor="start" fill="#111" font-weight="bold" >D</text>
<rect x="130.50" y="386.70" width="18.2" height="5.8" fill="#123f72"/>
<text x="152.00" y="393.00" font-size="9.6" text-anchor="start" fill="#262626" font-weight="normal" >IgG1 Cluster 1</text>
<rect x="232.40" y="386.70" width="18.2" height="5.8" fill="#5a1f6b"/>
<text x="253.80" y="393.00" font-size="9.6" text-anchor="start" fill="#262626" font-weight="normal" >IgG3 Cluster 1</text>
<rect x="334.20" y="386.70" width="18.2" height="5.8" fill="#1a6a4e"/>
<text x="355.40" y="393.00" font-size="9.6" text-anchor="start" fill="#262626" font-weight="normal" >IgG4 Cluster 1</text>
<rect x="130.50" y="404.20" width="18.2" height="5.8" fill="#35a7df"/>
<text x="152.00" y="410.50" font-size="9.6" text-anchor="start" fill="#262626" font-weight="normal" >IgG1 Cluster 2</text>
<rect x="232.40" y="404.20" width="18.2" height="5.8" fill="#9c91c9"/>
<text x="253.80" y="410.50" font-size="9.6" text-anchor="start" fill="#262626" font-weight="normal" >IgG3 Cluster 2</text>
<path d="M342.90 403.30L346.60 407.00L342.90 410.70L339.20 407.00Z" fill="#c2102f"/>
<text x="355.80" y="410.40" font-size="9.6" text-anchor="start" fill="#262626" font-weight="normal" >BU/ml</text>
<line x1="82.50" y1="415.80" x2="82.50" y2="685.60" stroke="#878787" stroke-width="1.0" stroke-dasharray="1.1 2.2"/>
<line x1="96.50" y1="415.80" x2="96.50" y2="685.60" stroke="#878787" stroke-width="1.0" stroke-dasharray="1.1 2.2"/>
<line x1="109.50" y1="415.80" x2="109.50" y2="685.60" stroke="#878787" stroke-width="1.0" stroke-dasharray="1.1 2.2"/>
<line x1="123.50" y1="415.80" x2="123.50" y2="685.60" stroke="#878787" stroke-width="1.0" stroke-dasharray="1.1 2.2"/>
<line x1="137.50" y1="415.80" x2="137.50" y2="685.60" stroke="#878787" stroke-width="1.0" stroke-dasharray="1.1 2.2"/>
<line x1="150.50" y1="415.80" x2="150.50" y2="685.60" stroke="#878787" stroke-width="1.0" stroke-dasharray="1.1 2.2"/>
<line x1="164.50" y1="415.80" x2="164.50" y2="685.60" stroke="#878787" stroke-width="1.0" stroke-dasharray="1.1 2.2"/>
<line x1="191.50" y1="415.80" x2="191.50" y2="685.60" stroke="#878787" stroke-width="1.0" stroke-dasharray="1.1 2.2"/>
<line x1="205.50" y1="415.80" x2="205.50" y2="685.60" stroke="#878787" stroke-width="1.0" stroke-dasharray="1.1 2.2"/>
<line x1="219.50" y1="415.80" x2="219.50" y2="685.60" stroke="#878787" stroke-width="1.0" stroke-dasharray="1.1 2.2"/>
<line x1="232.50" y1="415.80" x2="232.50" y2="685.60" stroke="#878787" stroke-width="1.0" stroke-dasharray="1.1 2.2"/>
<line x1="246.50" y1="415.80" x2="246.50" y2="685.60" stroke="#878787" stroke-width="1.0" stroke-dasharray="1.1 2.2"/>
<line x1="259.50" y1="415.80" x2="259.50" y2="685.60" stroke="#878787" stroke-width="1.0" stroke-dasharray="1.1 2.2"/>
<line x1="273.50" y1="415.80" x2="273.50" y2="685.60" stroke="#878787" stroke-width="1.0" stroke-dasharray="1.1 2.2"/>
<line x1="287.50" y1="415.80" x2="287.50" y2="685.60" stroke="#878787" stroke-width="1.0" stroke-dasharray="1.1 2.2"/>
<line x1="300.50" y1="415.80" x2="300.50" y2="685.60" stroke="#878787" stroke-width="1.0" stroke-dasharray="1.1 2.2"/>
<line x1="314.50" y1="415.80" x2="314.50" y2="685.60" stroke="#878787" stroke-width="1.0" stroke-dasharray="1.1 2.2"/>
<line x1="328.50" y1="415.80" x2="328.50" y2="685.60" stroke="#878787" stroke-width="1.0" stroke-dasharray="1.1 2.2"/>
<line x1="341.50" y1="415.80" x2="341.50" y2="685.60" stroke="#878787" stroke-width="1.0" stroke-dasharray="1.1 2.2"/>
<line x1="355.50" y1="415.80" x2="355.50" y2="685.60" stroke="#878787" stroke-width="1.0" stroke-dasharray="1.1 2.2"/>
<line x1="369.50" y1="415.80" x2="369.50" y2="685.60" stroke="#878787" stroke-width="1.0" stroke-dasharray="1.1 2.2"/>
<line x1="382.50" y1="415.80" x2="382.50" y2="685.60" stroke="#878787" stroke-width="1.0" stroke-dasharray="1.1 2.2"/>
<line x1="396.50" y1="415.80" x2="396.50" y2="685.60" stroke="#878787" stroke-width="1.0" stroke-dasharray="1.1 2.2"/>
<line x1="409.50" y1="415.80" x2="409.50" y2="685.60" stroke="#878787" stroke-width="1.0" stroke-dasharray="1.1 2.2"/>
<line x1="423.50" y1="415.80" x2="423.50" y2="685.60" stroke="#878787" stroke-width="1.0" stroke-dasharray="1.1 2.2"/>
<line x1="437.50" y1="415.80" x2="437.50" y2="685.60" stroke="#878787" stroke-width="1.0" stroke-dasharray="1.1 2.2"/>
<line x1="450.50" y1="415.80" x2="450.50" y2="685.60" stroke="#878787" stroke-width="1.0" stroke-dasharray="1.1 2.2"/>
<line x1="464.50" y1="415.80" x2="464.50" y2="685.60" stroke="#878787" stroke-width="1.0" stroke-dasharray="1.1 2.2"/>
<line x1="178.16" y1="416.30" x2="178.16" y2="685.60" stroke="#5e5e5e" stroke-width="1.3" />
<line x1="72.20" y1="641.20" x2="474.60" y2="641.20" stroke="#c8304e" stroke-width="1.0" stroke-dasharray="1.1 2.3"/>
<line x1="69.20" y1="416.30" x2="69.20" y2="686.20" stroke="#1a1a1a" stroke-width="1.4" />
<line x1="65.20" y1="685.60" x2="477.60" y2="685.60" stroke="#1a1a1a" stroke-width="1.4" />
<line x1="477.60" y1="416.30" x2="477.60" y2="641.40" stroke="#1a1a1a" stroke-width="1.4" />
<line x1="477.60" y1="646.70" x2="477.60" y2="685.60" stroke="#1a1a1a" stroke-width="1.4" />
<line x1="473.40" y1="641.40" x2="480.80" y2="641.40" stroke="#1a1a1a" stroke-width="1.3" />
<line x1="473.60" y1="646.70" x2="480.80" y2="646.70" stroke="#1a1a1a" stroke-width="1.3" />
<line x1="65.00" y1="645.75" x2="69.20" y2="645.75" stroke="#1a1a1a" stroke-width="1.2" />
<line x1="65.00" y1="606.02" x2="69.20" y2="606.02" stroke="#1a1a1a" stroke-width="1.2" />
<line x1="65.00" y1="566.29" x2="69.20" y2="566.29" stroke="#1a1a1a" stroke-width="1.2" />
<line x1="65.00" y1="526.56" x2="69.20" y2="526.56" stroke="#1a1a1a" stroke-width="1.2" />
<line x1="65.00" y1="486.83" x2="69.20" y2="486.83" stroke="#1a1a1a" stroke-width="1.2" />
<line x1="65.00" y1="447.10" x2="69.20" y2="447.10" stroke="#1a1a1a" stroke-width="1.2" />
<text transform="translate(53.20,688.08) scale(1.08,1)" font-size="9.4" text-anchor="end" fill="#222">10</text>
<text transform="translate(53.70,684.58) scale(1.1,1)" font-size="6.3" text-anchor="start" fill="#222">6</text>
<text transform="translate(53.20,648.35) scale(1.08,1)" font-size="9.4" text-anchor="end" fill="#222">10</text>
<text transform="translate(53.70,644.85) scale(1.1,1)" font-size="6.3" text-anchor="start" fill="#222">7</text>
<text transform="translate(53.20,608.62) scale(1.08,1)" font-size="9.4" text-anchor="end" fill="#222">10</text>
<text transform="translate(53.70,605.12) scale(1.1,1)" font-size="6.3" text-anchor="start" fill="#222">8</text>
<text transform="translate(53.20,568.89) scale(1.08,1)" font-size="9.4" text-anchor="end" fill="#222">10</text>
<text transform="translate(53.70,565.39) scale(1.1,1)" font-size="6.3" text-anchor="start" fill="#222">9</text>
<text transform="translate(53.20,529.16) scale(1.08,1)" font-size="9.4" text-anchor="end" fill="#222">10</text>
<text transform="translate(53.70,525.66) scale(1.1,1)" font-size="6.3" text-anchor="start" fill="#222">10</text>
<text transform="translate(53.20,489.43) scale(1.08,1)" font-size="9.4" text-anchor="end" fill="#222">10</text>
<text transform="translate(53.70,485.93) scale(1.1,1)" font-size="6.3" text-anchor="start" fill="#222">11</text>
<text transform="translate(53.20,449.70) scale(1.08,1)" font-size="9.4" text-anchor="end" fill="#222">10</text>
<text transform="translate(53.70,446.20) scale(1.1,1)" font-size="6.3" text-anchor="start" fill="#222">12</text>
<line x1="477.60" y1="419.22" x2="481.60" y2="419.22" stroke="#1a1a1a" stroke-width="1.2" />
<text transform="translate(485.30,422.62) scale(1.1,1)" font-size="9.4" text-anchor="start" fill="#222">850</text>
<line x1="477.60" y1="445.43" x2="481.60" y2="445.43" stroke="#1a1a1a" stroke-width="1.2" />
<text transform="translate(485.30,448.83) scale(1.1,1)" font-size="9.4" text-anchor="start" fill="#222">750</text>
<line x1="477.60" y1="471.64" x2="481.60" y2="471.64" stroke="#1a1a1a" stroke-width="1.2" />
<text transform="translate(485.30,475.04) scale(1.1,1)" font-size="9.4" text-anchor="start" fill="#222">650</text>
<line x1="477.60" y1="497.85" x2="481.60" y2="497.85" stroke="#1a1a1a" stroke-width="1.2" />
<text transform="translate(485.30,501.25) scale(1.1,1)" font-size="9.4" text-anchor="start" fill="#222">550</text>
<line x1="477.60" y1="524.06" x2="481.60" y2="524.06" stroke="#1a1a1a" stroke-width="1.2" />
<text transform="translate(485.30,527.46) scale(1.1,1)" font-size="9.4" text-anchor="start" fill="#222">450</text>
<line x1="477.60" y1="550.27" x2="481.60" y2="550.27" stroke="#1a1a1a" stroke-width="1.2" />
<text transform="translate(485.30,553.67) scale(1.1,1)" font-size="9.4" text-anchor="start" fill="#222">350</text>
<line x1="477.60" y1="576.48" x2="481.60" y2="576.48" stroke="#1a1a1a" stroke-width="1.2" />
<text transform="translate(485.30,579.88) scale(1.1,1)" font-size="9.4" text-anchor="start" fill="#222">250</text>
<line x1="477.60" y1="602.69" x2="481.60" y2="602.69" stroke="#1a1a1a" stroke-width="1.2" />
<text transform="translate(485.30,606.09) scale(1.1,1)" font-size="9.4" text-anchor="start" fill="#222">150</text>
<line x1="477.60" y1="628.90" x2="481.60" y2="628.90" stroke="#1a1a1a" stroke-width="1.2" />
<text transform="translate(485.30,632.30) scale(1.1,1)" font-size="9.4" text-anchor="start" fill="#222">50</text>
<text transform="translate(485.30,650.10) scale(1.1,1)" font-size="9.4" text-anchor="start" fill="#222">0.6</text>
<line x1="477.60" y1="659.60" x2="481.60" y2="659.60" stroke="#1a1a1a" stroke-width="1.2" />
<text transform="translate(485.30,663.00) scale(1.1,1)" font-size="9.4" text-anchor="start" fill="#222">0.4</text>
<text transform="translate(485.30,689.20) scale(1.1,1)" font-size="9.4" text-anchor="start" fill="#222">0.0</text>
<line x1="75.85" y1="685.60" x2="75.85" y2="689.40" stroke="#1a1a1a" stroke-width="1.2" />
<line x1="89.48" y1="685.60" x2="89.48" y2="689.40" stroke="#1a1a1a" stroke-width="1.2" />
<line x1="103.12" y1="685.60" x2="103.12" y2="689.40" stroke="#1a1a1a" stroke-width="1.2" />
<line x1="116.75" y1="685.60" x2="116.75" y2="689.40" stroke="#1a1a1a" stroke-width="1.2" />
<line x1="130.39" y1="685.60" x2="130.39" y2="689.40" stroke="#1a1a1a" stroke-width="1.2" />
<line x1="144.02" y1="685.60" x2="144.02" y2="689.40" stroke="#1a1a1a" stroke-width="1.2" />
<line x1="157.66" y1="685.60" x2="157.66" y2="689.40" stroke="#1a1a1a" stroke-width="1.2" />
<line x1="171.29" y1="685.60" x2="171.29" y2="689.40" stroke="#1a1a1a" stroke-width="1.2" />
<line x1="184.93" y1="685.60" x2="184.93" y2="689.40" stroke="#1a1a1a" stroke-width="1.2" />
<line x1="198.56" y1="685.60" x2="198.56" y2="689.40" stroke="#1a1a1a" stroke-width="1.2" />
<line x1="212.20" y1="685.60" x2="212.20" y2="689.40" stroke="#1a1a1a" stroke-width="1.2" />
<line x1="225.83" y1="685.60" x2="225.83" y2="689.40" stroke="#1a1a1a" stroke-width="1.2" />
<line x1="239.47" y1="685.60" x2="239.47" y2="689.40" stroke="#1a1a1a" stroke-width="1.2" />
<line x1="253.10" y1="685.60" x2="253.10" y2="689.40" stroke="#1a1a1a" stroke-width="1.2" />
<line x1="266.74" y1="685.60" x2="266.74" y2="689.40" stroke="#1a1a1a" stroke-width="1.2" />
<line x1="280.38" y1="685.60" x2="280.38" y2="689.40" stroke="#1a1a1a" stroke-width="1.2" />
<line x1="294.01" y1="685.60" x2="294.01" y2="689.40" stroke="#1a1a1a" stroke-width="1.2" />
<line x1="307.64" y1="685.60" x2="307.64" y2="689.40" stroke="#1a1a1a" stroke-width="1.2" />
<line x1="321.28" y1="685.60" x2="321.28" y2="689.40" stroke="#1a1a1a" stroke-width="1.2" />
<line x1="334.91" y1="685.60" x2="334.91" y2="689.40" stroke="#1a1a1a" stroke-width="1.2" />
<line x1="348.55" y1="685.60" x2="348.55" y2="689.40" stroke="#1a1a1a" stroke-width="1.2" />
<line x1="362.18" y1="685.60" x2="362.18" y2="689.40" stroke="#1a1a1a" stroke-width="1.2" />
<line x1="375.82" y1="685.60" x2="375.82" y2="689.40" stroke="#1a1a1a" stroke-width="1.2" />
<line x1="389.46" y1="685.60" x2="389.46" y2="689.40" stroke="#1a1a1a" stroke-width="1.2" />
<line x1="403.09" y1="685.60" x2="403.09" y2="689.40" stroke="#1a1a1a" stroke-width="1.2" />
<line x1="416.73" y1="685.60" x2="416.73" y2="689.40" stroke="#1a1a1a" stroke-width="1.2" />
<line x1="430.36" y1="685.60" x2="430.36" y2="689.40" stroke="#1a1a1a" stroke-width="1.2" />
<line x1="444.00" y1="685.60" x2="444.00" y2="689.40" stroke="#1a1a1a" stroke-width="1.2" />
<line x1="457.63" y1="685.60" x2="457.63" y2="689.40" stroke="#1a1a1a" stroke-width="1.2" />
<line x1="471.26" y1="685.60" x2="471.26" y2="689.40" stroke="#1a1a1a" stroke-width="1.2" />
<text transform="translate(31.2,552.4) rotate(-90)" font-size="10.6" text-anchor="middle" textLength="93" lengthAdjust="spacingAndGlyphs" fill="#1a1a1a" stroke="#1a1a1a" stroke-width="0.35">Mean K<tspan font-size="7" dy="2">A</tspan><tspan dy="-2"> ± 95% CI [M</tspan><tspan font-size="7" dy="-4">-1</tspan><tspan dy="4">]</tspan></text>
<text transform="translate(510,552) rotate(90)" font-size="10.6" text-anchor="middle" textLength="85.5" lengthAdjust="spacingAndGlyphs" fill="#1a1a1a" stroke="#1a1a1a" stroke-width="0.35">FVIII inhibitor&#160; [BU/ml]</text>
<text x="273.2" y="734.6" font-size="11.3" text-anchor="middle" textLength="87.3" lengthAdjust="spacingAndGlyphs" fill="#1a1a1a" stroke="#1a1a1a" stroke-width="0.35">Observation time [days]</text>
<rect x="130.54" y="470.50" width="3.4" height="4.00" fill="#1a6a4e"/>
<rect x="144.20" y="472.80" width="3.4" height="3.40" fill="#1a6a4e"/>
<rect x="157.86" y="476.20" width="3.4" height="4.80" fill="#1a6a4e"/>
<rect x="171.52" y="470.40" width="3.4" height="4.30" fill="#1a6a4e"/>
<rect x="185.17" y="461.50" width="3.4" height="2.50" fill="#1c3a2c"/>
<rect x="198.83" y="453.30" width="3.4" height="4.20" fill="#1a6a4e"/>
<rect x="212.49" y="456.00" width="3.4" height="3.00" fill="#1a6a4e"/>
<rect x="226.15" y="454.30" width="3.4" height="3.00" fill="#1a6a4e"/>
<rect x="239.81" y="459.50" width="3.4" height="5.00" fill="#1a6a4e"/>
<rect x="253.46" y="454.30" width="3.4" height="3.00" fill="#1a6a4e"/>
<rect x="267.12" y="450.80" width="3.4" height="4.20" fill="#1a6a4e"/>
<rect x="280.78" y="450.80" width="3.4" height="6.20" fill="#1a6a4e"/>
<rect x="294.44" y="451.80" width="3.4" height="3.00" fill="#1a6a4e"/>
<rect x="308.10" y="452.00" width="3.4" height="5.00" fill="#1a6a4e"/>
<rect x="321.75" y="448.00" width="3.4" height="4.50" fill="#1a6a4e"/>
<rect x="335.41" y="446.30" width="3.4" height="8.00" fill="#1a6a4e"/>
<rect x="349.07" y="441.30" width="3.4" height="10.70" fill="#1a6a4e"/>
<rect x="362.73" y="439.30" width="3.4" height="17.50" fill="#1a6a4e"/>
<rect x="376.39" y="443.00" width="3.4" height="5.80" fill="#1a6a4e"/>
<rect x="390.04" y="446.80" width="3.4" height="7.00" fill="#1a6a4e"/>
<rect x="403.70" y="442.40" width="3.4" height="11.80" fill="#1a6a4e"/>
<rect x="417.36" y="443.80" width="3.4" height="4.60" fill="#1a6a4e"/>
<rect x="431.02" y="444.70" width="3.4" height="8.10" fill="#1a6a4e"/>
<rect x="444.68" y="447.00" width="3.4" height="6.50" fill="#1a6a4e"/>
<rect x="458.33" y="451.20" width="3.4" height="6.90" fill="#1a6a4e"/>
<rect x="471.99" y="450.00" width="3.4" height="7.60" fill="#1a6a4e"/>
<rect x="112.95" y="510.80" width="3.4" height="14.20" fill="#123f72"/>
<rect x="140.26" y="531.90" width="3.4" height="21.00" fill="#123f72"/>
<rect x="153.91" y="484.60" width="3.4" height="2.20" fill="#16243a"/>
<rect x="167.57" y="484.60" width="3.4" height="2.20" fill="#16243a"/>
<rect x="181.22" y="500.50" width="3.4" height="11.20" fill="#123f72"/>
<rect x="194.88" y="497.30" width="3.4" height="9.50" fill="#123f72"/>
<rect x="208.53" y="473.00" width="3.4" height="19.00" fill="#123f72"/>
<rect x="222.18" y="498.30" width="3.4" height="13.40" fill="#123f72"/>
<rect x="235.84" y="500.50" width="3.4" height="17.00" fill="#123f72"/>
<rect x="249.49" y="501.30" width="3.4" height="35.50" fill="#123f72"/>
<rect x="263.15" y="478.00" width="3.4" height="13.80" fill="#123f72"/>
<rect x="276.80" y="499.50" width="3.4" height="22.20" fill="#123f72"/>
<rect x="290.45" y="503.80" width="3.4" height="15.70" fill="#123f72"/>
<rect x="304.11" y="510.60" width="3.4" height="10.80" fill="#123f72"/>
<rect x="317.76" y="488.80" width="3.4" height="11.90" fill="#123f72"/>
<rect x="331.42" y="487.00" width="3.4" height="19.80" fill="#123f72"/>
<rect x="345.07" y="485.50" width="3.4" height="20.80" fill="#123f72"/>
<rect x="358.72" y="507.00" width="3.4" height="12.50" fill="#123f72"/>
<rect x="372.38" y="476.30" width="3.4" height="47.00" fill="#123f72"/>
<rect x="386.03" y="481.30" width="3.4" height="27.50" fill="#123f72"/>
<rect x="399.69" y="513.00" width="3.4" height="14.50" fill="#123f72"/>
<rect x="413.34" y="482.70" width="3.4" height="27.80" fill="#123f72"/>
<rect x="426.99" y="479.60" width="3.4" height="20.10" fill="#123f72"/>
<rect x="440.65" y="517.50" width="3.4" height="13.40" fill="#123f72"/>
<rect x="454.30" y="508.90" width="3.4" height="15.00" fill="#123f72"/>
<rect x="467.96" y="512.40" width="3.4" height="15.00" fill="#123f72"/>
<rect x="154.71" y="479.90" width="1.8" height="1.80" fill="#2a2f38"/>
<rect x="168.37" y="479.90" width="1.8" height="1.80" fill="#2a2f38"/>
<rect x="116.80" y="512.10" width="3.2" height="11.00" fill="#5a1f6b"/>
<rect x="113.45" y="588.00" width="3.4" height="10.80" fill="#35a7df"/>
<rect x="209.03" y="610.50" width="3.4" height="28.80" fill="#35a7df"/>
<rect x="263.65" y="620.50" width="3.4" height="15.80" fill="#35a7df"/>
<rect x="318.26" y="624.50" width="3.4" height="13.80" fill="#35a7df"/>
<rect x="331.92" y="623.00" width="3.4" height="21.30" fill="#35a7df"/>
<rect x="345.57" y="623.30" width="3.4" height="18.00" fill="#35a7df"/>
<rect x="372.88" y="612.50" width="3.4" height="31.30" fill="#35a7df"/>
<rect x="386.53" y="613.80" width="3.4" height="15.00" fill="#35a7df"/>
<rect x="413.84" y="617.80" width="3.4" height="37.20" fill="#35a7df"/>
<rect x="427.49" y="619.80" width="3.4" height="11.00" fill="#35a7df"/>
<rect x="113.45" y="592.10" width="3.4" height="1.50" fill="#ffffff"/>
<rect x="318.26" y="626.50" width="3.4" height="1.50" fill="#ffffff"/>
<rect x="331.92" y="626.50" width="3.4" height="1.50" fill="#ffffff"/>
<rect x="331.92" y="629.70" width="3.4" height="1.50" fill="#ffffff"/>
<rect x="345.57" y="626.00" width="3.4" height="1.50" fill="#ffffff"/>
<rect x="372.88" y="616.70" width="3.4" height="1.50" fill="#ffffff"/>
<rect x="372.88" y="624.30" width="3.4" height="1.50" fill="#ffffff"/>
<rect x="386.53" y="618.50" width="3.4" height="1.50" fill="#ffffff"/>
<rect x="413.84" y="625.90" width="3.4" height="1.50" fill="#ffffff"/>
<rect x="117.55" y="601.30" width="3.4" height="17.50" fill="#9c91c9"/>
<rect x="117.55" y="606.50" width="3.4" height="1.50" fill="#ffffff"/>
<path d="M77.49 662.35L80.94 665.80L77.49 669.25L74.04 665.80Z" fill="#c2102f"/>
<path d="M91.15 662.35L94.60 665.80L91.15 669.25L87.70 665.80Z" fill="#c2102f"/>
<path d="M104.81 662.35L108.26 665.80L104.81 669.25L101.36 665.80Z" fill="#c2102f"/>
<path d="M118.47 631.05L121.92 634.50L118.47 637.95L115.02 634.50Z" fill="#c2102f"/>
<path d="M132.13 630.35L135.58 633.80L132.13 637.25L128.68 633.80Z" fill="#c2102f"/>
<path d="M145.78 430.35L149.23 433.80L145.78 437.25L142.34 433.80Z" fill="#c2102f"/>
<path d="M159.44 553.45L162.89 556.90L159.44 560.35L155.99 556.90Z" fill="#c2102f"/>
<path d="M173.10 528.45L176.55 531.90L173.10 535.35L169.65 531.90Z" fill="#c2102f"/>
<path d="M186.76 607.35L190.21 610.80L186.76 614.25L183.31 610.80Z" fill="#c2102f"/>
<path d="M200.42 617.85L203.87 621.30L200.42 624.75L196.97 621.30Z" fill="#c2102f"/>
<path d="M214.08 619.05L217.53 622.50L214.08 625.95L210.63 622.50Z" fill="#c2102f"/>
<path d="M227.74 612.05L231.19 615.50L227.74 618.95L224.29 615.50Z" fill="#c2102f"/>
<path d="M241.40 622.05L244.85 625.50L241.40 628.95L237.95 625.50Z" fill="#c2102f"/>
<path d="M255.06 624.05L258.51 627.50L255.06 630.95L251.61 627.50Z" fill="#c2102f"/>
<path d="M268.72 622.05L272.17 625.50L268.72 628.95L265.27 625.50Z" fill="#c2102f"/>
<path d="M282.38 617.85L285.82 621.30L282.38 624.75L278.93 621.30Z" fill="#c2102f"/>
<path d="M296.03 622.85L299.48 626.30L296.03 629.75L292.58 626.30Z" fill="#c2102f"/>
<path d="M309.69 625.85L313.14 629.30L309.69 632.75L306.24 629.30Z" fill="#c2102f"/>
<path d="M323.35 621.05L326.80 624.50L323.35 627.95L319.90 624.50Z" fill="#c2102f"/>
<path d="M337.01 621.05L340.46 624.50L337.01 627.95L333.56 624.50Z" fill="#c2102f"/>
<path d="M350.67 625.35L354.12 628.80L350.67 632.25L347.22 628.80Z" fill="#c2102f"/>
<path d="M364.33 625.35L367.78 628.80L364.33 632.25L360.88 628.80Z" fill="#c2102f"/>
<path d="M377.99 628.55L381.44 632.00L377.99 635.45L374.54 632.00Z" fill="#c2102f"/>
<path d="M391.65 627.35L395.10 630.80L391.65 634.25L388.20 630.80Z" fill="#c2102f"/>
<path d="M405.31 629.15L408.76 632.60L405.31 636.05L401.86 632.60Z" fill="#c2102f"/>
<path d="M418.97 627.05L422.42 630.50L418.97 633.95L415.52 630.50Z" fill="#c2102f"/>
<path d="M432.62 627.75L436.07 631.20L432.62 634.65L429.17 631.20Z" fill="#c2102f"/>
<path d="M446.28 629.15L449.73 632.60L446.28 636.05L442.83 632.60Z" fill="#c2102f"/>
<path d="M459.94 625.75L463.39 629.20L459.94 632.65L456.49 629.20Z" fill="#c2102f"/>
<path d="M473.60 625.05L477.05 628.50L473.60 631.95L470.15 628.50Z" fill="#c2102f"/>
<polygon points="135.60,677.40 137.57,682.49 143.02,682.79 138.79,686.24 140.18,691.51 135.60,688.55 131.02,691.51 132.41,686.24 128.18,682.79 133.63,682.49" fill="#f7be0c"/>
<text transform="translate(80.45,698.00) rotate(-45)" font-size="10.2" text-anchor="end" fill="#1a1a1a">B</text>
<text transform="translate(94.08,698.00) rotate(-45)" font-size="10.2" text-anchor="end" fill="#1a1a1a">ED1</text>
<text transform="translate(107.72,698.00) rotate(-45)" font-size="10.2" text-anchor="end" fill="#1a1a1a">ED6</text>
<text transform="translate(121.35,698.00) rotate(-45)" font-size="10.2" text-anchor="end" fill="#1a1a1a">ED10</text>
<text transform="translate(134.99,698.00) rotate(-45)" font-size="10.2" text-anchor="end" fill="#1a1a1a">ED12</text>
<text transform="translate(148.62,698.00) rotate(-45)" font-size="10.2" text-anchor="end" fill="#1a1a1a">ED22</text>
<text transform="translate(162.26,698.00) rotate(-45)" font-size="10.2" text-anchor="end" fill="#1a1a1a">ED40</text>
<text transform="translate(175.89,698.00) rotate(-45)" font-size="10.2" text-anchor="end" fill="#1a1a1a">ED55</text>
<text transform="translate(189.53,698.00) rotate(-45)" font-size="10.2" text-anchor="end" fill="#1a1a1a">ED83</text>
<text transform="translate(203.16,698.00) rotate(-45)" font-size="10.2" text-anchor="end" fill="#1a1a1a">ED111</text>
<text transform="translate(216.80,698.00) rotate(-45)" font-size="10.2" text-anchor="end" fill="#1a1a1a">ED145</text>
<text transform="translate(230.43,698.00) rotate(-45)" font-size="10.2" text-anchor="end" fill="#1a1a1a">ED172</text>
<text transform="translate(244.07,698.00) rotate(-45)" font-size="10.2" text-anchor="end" fill="#1a1a1a">ED194</text>
<text transform="translate(257.70,698.00) rotate(-45)" font-size="10.2" text-anchor="end" fill="#1a1a1a">ED222</text>
<text transform="translate(271.34,698.00) rotate(-45)" font-size="10.2" text-anchor="end" fill="#1a1a1a">ED250</text>
<text transform="translate(284.98,698.00) rotate(-45)" font-size="10.2" text-anchor="end" fill="#1a1a1a">ED278</text>
<text transform="translate(298.61,698.00) rotate(-45)" font-size="10.2" text-anchor="end" fill="#1a1a1a">ED305</text>
<text transform="translate(312.25,698.00) rotate(-45)" font-size="10.2" text-anchor="end" fill="#1a1a1a">ED333</text>
<text transform="translate(325.88,698.00) rotate(-45)" font-size="10.2" text-anchor="end" fill="#1a1a1a">ED360</text>
<text transform="translate(339.51,698.00) rotate(-45)" font-size="10.2" text-anchor="end" fill="#1a1a1a">ED389</text>
<text transform="translate(353.15,698.00) rotate(-45)" font-size="10.2" text-anchor="end" fill="#1a1a1a">ED417</text>
<text transform="translate(366.78,698.00) rotate(-45)" font-size="10.2" text-anchor="end" fill="#1a1a1a">ED431</text>
<text transform="translate(380.42,698.00) rotate(-45)" font-size="10.2" text-anchor="end" fill="#1a1a1a">ED440</text>
<text transform="translate(394.06,698.00) rotate(-45)" font-size="10.2" text-anchor="end" fill="#1a1a1a">ED452</text>
<text transform="translate(407.69,698.00) rotate(-45)" font-size="10.2" text-anchor="end" fill="#1a1a1a">ED461</text>
<text transform="translate(421.33,698.00) rotate(-45)" font-size="10.2" text-anchor="end" fill="#1a1a1a">ED473</text>
<text transform="translate(434.96,698.00) rotate(-45)" font-size="10.2" text-anchor="end" fill="#1a1a1a">ED488</text>
<text transform="translate(448.60,698.00) rotate(-45)" font-size="10.2" text-anchor="end" fill="#1a1a1a">ED500</text>
<text transform="translate(462.23,698.00) rotate(-45)" font-size="10.2" text-anchor="end" fill="#1a1a1a">ED512</text>
<text transform="translate(475.87,698.00) rotate(-45)" font-size="10.2" text-anchor="end" fill="#1a1a1a">ED524</text>
</svg>
</body></html>
